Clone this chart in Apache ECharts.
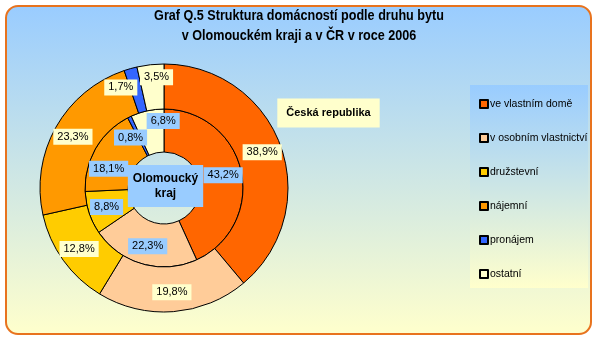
<!DOCTYPE html>
<html><head><meta charset="utf-8">
<script src="https://cdn.jsdelivr.net/npm/echarts@6/dist/echarts.min.js"></script>
<style>html,body{margin:0;padding:0;background:#fff}#c{width:598px;height:340px}</style>
</head><body><div id="c"></div>
<script>
// ---- data ----
const categories = ['ve vlastním domě', 'v osobním vlastnictví', 'družstevní', 'nájemní', 'pronájem', 'ostatní'];
const crValues = [38.9, 19.8, 12.8, 23.3, 1.7, 3.5];          // Česká republika (outer ring)
const olomoucValues = [43.2, 22.3, 8.8, 18.1, 0.8, 6.8];      // Olomoucký kraj (inner ring)
const titleText = 'Graf Q.5 Struktura domácností podle druhu bytu\nv Olomouckém kraji a v ČR v roce 2006';
const outerName = 'Česká republika';
const innerName = 'Olomoucký\nkraj';

// ---- styles ----
const colors = ['#FF6600', '#FFCC99', '#FFCC00', '#FF9900', '#3366FF', '#FFFFCC'];
const outerLabelShift = [[0, 0], [0, 0], [0, 0], [0, 0], [-15, 0], [4, -7]];
const innerLabelShift = [[0, 0], [0, 0], [0, 0], [-3, 11], [-7, 4], [12, -8]];
const FONT = "'Liberation Sans', Arial, sans-serif";
const fmt = p => p.value.toFixed(1).replace('.', ',') + '%';
const toData = vals => categories.map((n, i) => ({ name: n, value: vals[i], itemStyle: { color: colors[i] } }));

const chart = echarts.init(document.getElementById('c'), null, { renderer: 'canvas' });
const bgGrad = (c1, c2) => new echarts.graphic.LinearGradient(0, 0, 0, 1, [{ offset: 0, color: c1 }, { offset: 1, color: c2 }]);

const pieCommon = {
  type: 'pie',
  center: [164, 188],
  startAngle: 90,
  clockwise: true,
  avoidLabelOverlap: false,
  silent: true,
  emphasis: { disabled: true },
  itemStyle: { borderColor: '#000', borderWidth: 1 },
  labelLine: { show: false }
};

chart.setOption({
  animation: false,
  backgroundColor: '#fff',
  graphic: [
    { type: 'rect', z: -10, shape: { x: 6, y: 6, width: 585, height: 328, r: 12 },
      style: { fill: bgGrad('#99CCFF', '#FFFFCC'), stroke: '#E8731E', lineWidth: 2 } },
    { type: 'rect', z: -9, shape: { x: 470, y: 85, width: 118, height: 203 },
      style: { fill: bgGrad('#99CCFF', '#FFFFCC') } },
    { type: 'text', z: 20, x: 299, y: 6, scaleX: 0.84,
      style: { text: titleText, font: 'bold 15px ' + FONT, fill: '#000', align: 'center', verticalAlign: 'top', lineHeight: 20 } },
    { type: 'text', z: 20, x: 328.5, y: 113,
      style: { text: outerName, font: 'bold 11px ' + FONT, fill: '#000', align: 'center', verticalAlign: 'middle',
        backgroundColor: '#FFFFCC', padding: [9, 9] } },
    { type: 'text', z: 20, x: 165.5, y: 186,
      style: { text: innerName, font: 'bold 12px ' + FONT, fill: '#000', align: 'center', verticalAlign: 'middle',
        lineHeight: 15, backgroundColor: '#99CCFF', padding: [6, 5] } }
  ],
  legend: {
    orient: 'vertical',
    left: 479,
    top: 97,
    padding: 0,
    itemWidth: 8,
    itemHeight: 8,
    itemGap: 20,
    icon: 'rect',
    selectedMode: false,
    data: categories,
    textStyle: { fontFamily: FONT, fontSize: 10.5, color: '#000', lineHeight: 14, padding: [0, 0, 0, -3], overflow: 'none' }
  },
  series: [
    Object.assign({}, pieCommon, {
      name: 'Olomoucký kraj',
      radius: [36, 79],
      data: toData(olomoucValues),
      label: { show: true, position: 'inside', formatter: fmt, fontFamily: FONT, fontSize: 11, color: '#000',
        backgroundColor: '#99CCFF', padding: [3, 4, 2, 4] },
      labelLayout: p => ({ dx: innerLabelShift[p.dataIndex][0], dy: innerLabelShift[p.dataIndex][1] })
    }),
    Object.assign({}, pieCommon, {
      name: 'Česká republika',
      radius: [79, 124],
      data: toData(crValues),
      label: { show: true, position: 'inside', formatter: fmt, fontFamily: FONT, fontSize: 11, color: '#000',
        backgroundColor: '#FFFFCC', padding: [3, 4, 2, 4] },
      labelLayout: p => ({ dx: outerLabelShift[p.dataIndex][0], dy: outerLabelShift[p.dataIndex][1] })
    })
  ]
});
</script></body></html>
